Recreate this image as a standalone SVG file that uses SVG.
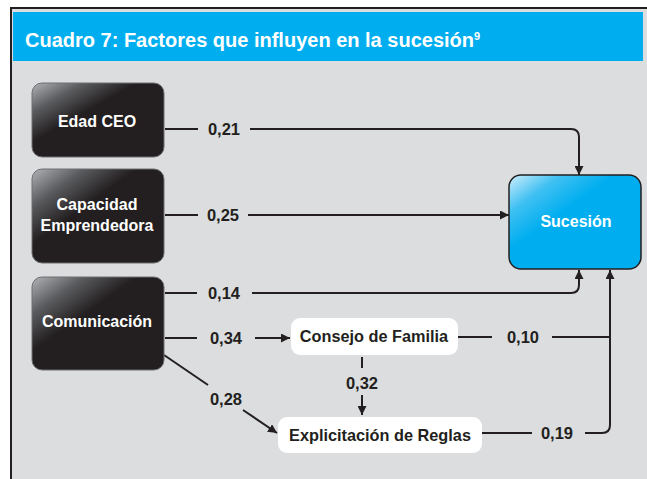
<svg xmlns="http://www.w3.org/2000/svg" width="647" height="479" viewBox="0 0 647 479">
<style>
.dark{fill:url(#gDark);stroke:#6d6e71;stroke-width:1}
.white{fill:#ffffff}
.nt{font-family:"Liberation Sans",Arial,sans-serif;font-weight:bold;font-size:16px;fill:#ffffff;text-anchor:middle}
.wt{font-family:"Liberation Sans",Arial,sans-serif;font-weight:bold;font-size:16.3px;fill:#231f20;text-anchor:middle}
.lbl{font-family:"Liberation Sans",Arial,sans-serif;font-weight:bold;font-size:16.5px;fill:#231f20;text-anchor:middle}
.ln{fill:none;stroke:#231f20;stroke-width:2}
.title{font-family:"Liberation Sans",Arial,sans-serif;font-weight:bold;font-size:20px;fill:#ffffff}
</style>
<defs>
<linearGradient id="gDark" x1="0" y1="0" x2="1" y2="1">
<stop offset="0" stop-color="#b1b3b6"/>
<stop offset="0.2" stop-color="#5a5b5e"/>
<stop offset="0.4" stop-color="#231f20"/>
<stop offset="1" stop-color="#231f20"/>
</linearGradient>
<linearGradient id="gBlue" x1="0" y1="0" x2="1" y2="1">
<stop offset="0" stop-color="#d0eefc"/>
<stop offset="0.2" stop-color="#3fc0f2"/>
<stop offset="0.4" stop-color="#00aeef"/>
<stop offset="1" stop-color="#00aeef"/>
</linearGradient>
<marker id="arr" viewBox="0 0 10 10" refX="10" refY="5" markerWidth="4.5" markerHeight="4.5" orient="auto" markerUnits="strokeWidth">
<path d="M0,0 L10,5 L0,10 Z" fill="#231f20"/>
</marker>
</defs>
<rect x="10" y="7" width="637" height="472" fill="#dcdddf"/>
<line x1="10" y1="8" x2="647" y2="8" stroke="#231f20" stroke-width="2"/>
<line x1="11" y1="7" x2="11" y2="479" stroke="#231f20" stroke-width="2"/>
<rect x="13" y="12" width="630" height="49" fill="#00aeef"/>
<text class="title" x="25" y="47">Cuadro 7: Factores que influyen en la sucesión<tspan font-size="11" dy="-7">9</tspan></text>

<g id="connectors">
<path class="ln" d="M165,129 H198"/>
<path class="ln" d="M250,129 H571 Q579,129 579,137 V175" marker-end="url(#arr)"/>
<path class="ln" d="M165,215 H198"/>
<path class="ln" d="M248,215 H509" marker-end="url(#arr)"/>
<path class="ln" d="M165,293 H197"/>
<path class="ln" d="M252,293 H571 Q579,293 579,285 V270" marker-end="url(#arr)"/>
<path class="ln" d="M165,338 H197"/>
<path class="ln" d="M255,338 H290" marker-end="url(#arr)"/>
<path class="ln" d="M458,337 H492"/>
<path class="ln" d="M552,337 H610"/>
<path class="ln" d="M482,433 H532"/>
<path class="ln" d="M585,433 H602 Q610,433 610,425 V270" marker-end="url(#arr)"/>
<path class="ln" d="M362,357 V368"/>
<path class="ln" d="M362,395 V415" marker-end="url(#arr)"/>
<path class="ln" d="M164,355 L208,385"/>
<path class="ln" d="M243,410 L277,433" marker-end="url(#arr)"/>
<text class="lbl" x="224" y="135">0,21</text>
<text class="lbl" x="223" y="221">0,25</text>
<text class="lbl" x="224" y="299">0,14</text>
<text class="lbl" x="226" y="344">0,34</text>
<text class="lbl" x="523" y="343">0,10</text>
<text class="lbl" x="557" y="439">0,19</text>
<text class="lbl" x="362" y="389">0,32</text>
<text class="lbl" x="226" y="405">0,28</text>
</g>

<g id="edad-ceo">
<rect class="dark" x="32" y="83" width="132" height="74" rx="10"/>
<text class="nt" x="97" y="127">Edad CEO</text>
</g>
<g id="capacidad-emprendedora">
<rect class="dark" x="32" y="169" width="132" height="94" rx="10"/>
<text class="nt" x="97" y="210">Capacidad</text>
<text class="nt" x="97" y="231">Emprendedora</text>
</g>
<g id="comunicacion">
<rect class="dark" x="32" y="277" width="132" height="93" rx="10"/>
<text class="nt" x="97" y="327">Comunicación</text>
</g>
<g id="sucesion">
<rect x="509" y="175" width="132" height="94" rx="12" fill="url(#gBlue)" stroke="#231f20" stroke-width="1.5"/>
<text class="nt" x="576" y="227">Sucesión</text>
</g>
<g id="consejo-de-familia">
<rect class="white" x="291" y="318" width="167" height="37" rx="9"/>
<text class="wt" x="374" y="342">Consejo de Familia</text>
</g>
<g id="explicitacion-de-reglas">
<rect class="white" x="278" y="417" width="204" height="36" rx="9"/>
<text class="wt" x="380" y="441">Explicitación de Reglas</text>
</g>
</svg>
